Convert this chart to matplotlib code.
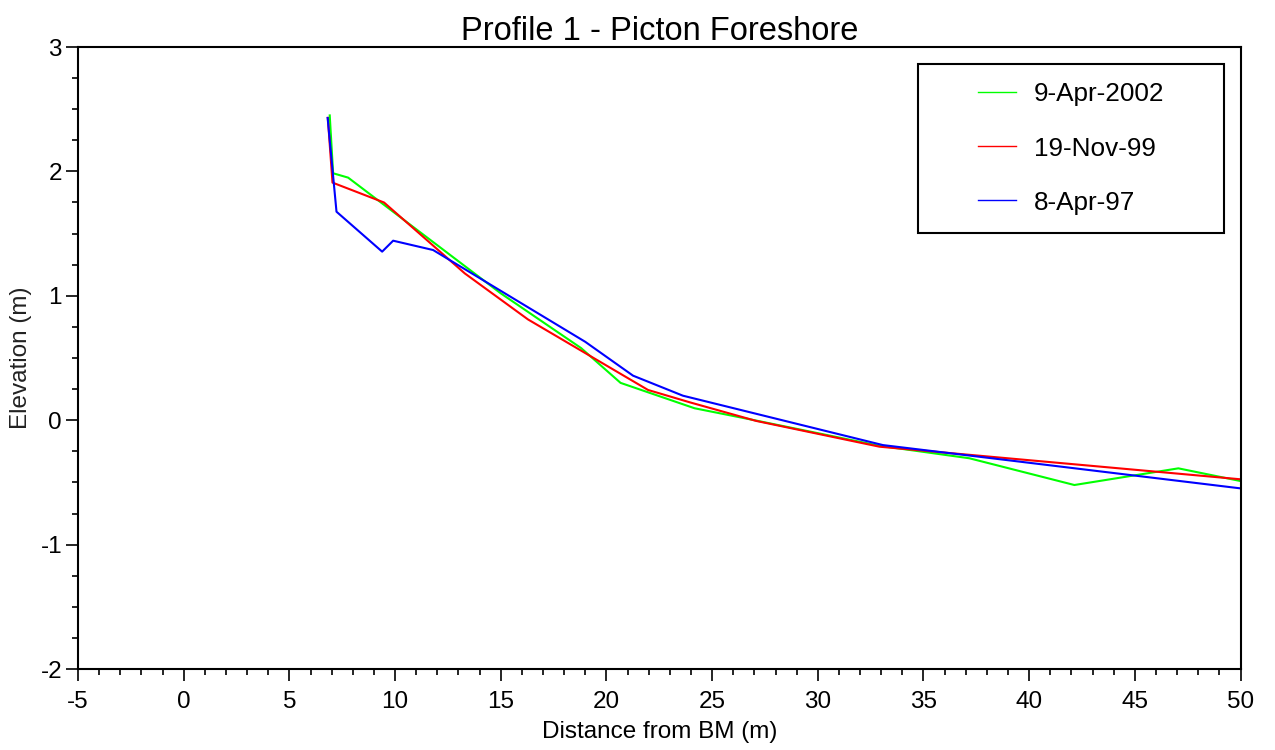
import matplotlib
matplotlib.use('Agg')
from matplotlib import pyplot as plt
from matplotlib.patches import Rectangle
from matplotlib.ticker import MultipleLocator

plt.rcParams['font.family'] = ['Liberation Sans', 'DejaVu Sans']
plt.rcParams['axes.unicode_minus'] = False

# survey profiles
x_2002 = [6.91, 7.07, 7.78, 15.0, 18.8, 20.67, 24.17, 26.8, 32.9, 37.17, 42.14, 47.06, 50.0]
y_2002 = [2.45, 1.985, 1.95, 1.02, 0.58, 0.30, 0.096, 0.007, -0.205, -0.306, -0.521, -0.387, -0.489]
x_1999 = [6.82, 7.04, 9.48, 13.30, 16.29, 21.97, 23.94, 27.09, 32.92, 50.0]
y_1999 = [2.43, 1.91, 1.75, 1.18, 0.81, 0.243, 0.144, -0.006, -0.213, -0.475]
x_1997 = [6.81, 7.23, 9.39, 9.91, 11.80, 19.0, 21.26, 23.62, 33.08, 50.0]
y_1997 = [2.43, 1.676, 1.355, 1.443, 1.368, 0.63, 0.358, 0.197, -0.20, -0.548]
labels = ['9-Apr-2002', '19-Nov-99', '8-Apr-97']
colors = ['#00ff00', '#ff0000', '#0000ff']

fig = plt.figure(figsize=(12.75, 7.5), dpi=100)
ax = fig.add_axes([78 / 1275, 1 - 669 / 750, 1162.5 / 1275, 622 / 750])

for xs, ys, lab, col in zip([x_2002, x_1999, x_1997], [y_2002, y_1999, y_1997], labels, colors):
    ax.plot(xs, ys, color=col, lw=1.5, label=lab)

ax.set_xlim(-5, 50)
ax.set_ylim(-2, 3)
ax.xaxis.set_major_locator(MultipleLocator(5))
ax.xaxis.set_minor_locator(MultipleLocator(1))
ax.yaxis.set_major_locator(MultipleLocator(1))
ax.yaxis.set_minor_locator(MultipleLocator(0.25))
ax.tick_params(which='major', length=8.5, width=1.2, labelsize=17.5, direction='out')
ax.tick_params(axis='x', which='major', pad=7)
ax.tick_params(axis='y', which='major', pad=3)
ax.tick_params(which='minor', length=4.5, width=1.2, direction='out')
for sp in ax.spines.values():
    sp.set_linewidth(1.5)

ax.set_xlabel('Distance from BM (m)', fontsize=17.5, labelpad=6)
ax.set_ylabel('Elevation (m)', fontsize=17.5, color='#222222', labelpad=6)
ax.set_title('Profile 1 - Picton Foreshore', fontsize=23.5, pad=3)

# legend box
ax.add_patch(Rectangle((0.7226, 0.701), 0.2632, 0.2717, transform=ax.transAxes,
                       fill=False, ec='black', lw=1.5, zorder=5))
leg = ax.legend(loc='center', bbox_to_anchor=(0.7226 + 0.1316, 0.701 + 0.1358),
                frameon=False, fontsize=18.8, labelspacing=1.15, handlelength=1.45,
                handletextpad=0.7)
for h in leg.get_lines():
    h.set_linewidth(1.0)

fig.savefig('out.png', dpi=100)
